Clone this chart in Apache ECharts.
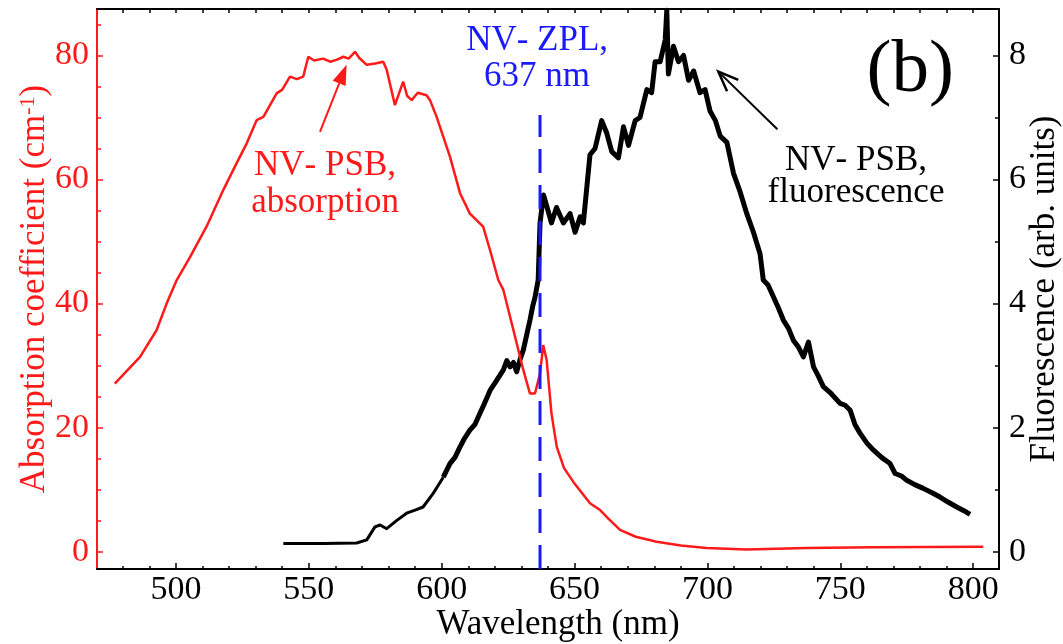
<!DOCTYPE html>
<html>
<head>
<meta charset="utf-8">
<script src="https://cdn.jsdelivr.net/npm/echarts@6.0.0/dist/echarts.min.js"></script>
<style>
  html, body { margin: 0; padding: 0; background: #fff; }
  #chart { width: 1063px; height: 644px; }
</style>
</head>
<body>
<div id="chart"></div>
<script>
var FONT = "'Liberation Serif', 'Times New Roman', serif";
var RED = '#ff1a1a';
var BLUE = '#1a1aff';

// NV- PSB absorption (nm, cm^-1)
var absWavelength = [477.0, 481.0, 486.5, 492.7, 496.5, 500.3, 505.3, 511.5, 517.8, 522.8, 526.6, 530.4, 532.9, 537.9, 540.0,
  542.9, 545.5, 547.9, 549.8, 552.0, 555.4, 558.0, 560.4, 563.0, 565.0, 567.4, 569.0, 571.8, 575.0, 578.0, 579.3,
  582.4, 585.5, 587.0, 588.7, 591.0, 594.3, 595.6, 598.1, 603.1, 606.9, 610.6, 615.6, 618.2, 621.3, 623.2, 627.0,
  630.7, 633.2, 635.1, 637.0, 638.2, 639.5, 641.3, 643.3, 646.0, 649.6, 655.8, 659.6, 663.0, 667.1, 673.0, 680.9,
  690.0, 699.7, 714.7, 737.3, 762.4, 803.8];
var absValue = [27.1, 28.9, 31.4, 35.7, 40.0, 43.8, 47.5, 52.4, 58.3, 62.6, 65.8, 69.6, 70.1, 73.9, 74.5,
  76.6, 76.2, 76.6, 79.8, 79.2, 79.5, 79.0, 79.3, 79.8, 79.5, 80.6, 79.6, 78.5, 78.7, 79.0, 77.7,
  72.0, 75.8, 73.5, 72.8, 74.0, 73.6, 72.8, 70.1, 63.7, 57.8, 54.5, 52.4, 48.6, 43.8, 42.2, 35.7,
  29.3, 25.5, 25.5, 28.7, 33.3, 30.9, 22.3, 16.9, 13.5, 11.2, 7.8, 6.7, 5.2, 3.5, 2.4, 1.6,
  1.0, 0.6, 0.35, 0.6, 0.7, 0.8];

// NV- PSB fluorescence (nm, arb. units): quiet blue side
var fluoLowWavelength = [540.4, 555.4, 568.0, 571.8, 574.9, 576.8, 579.3, 583.0, 586.8, 590.0, 593.0, 596.8, 600.6];
var fluoLowValue = [0.13, 0.13, 0.14, 0.19, 0.40, 0.43, 0.37, 0.50, 0.62, 0.67, 0.72, 0.94, 1.20];
// noisy part
var fluoWavelength = [600.6, 603.1, 605.0, 606.9, 608.5, 610.6, 612.5, 614.4, 616.0, 618.2, 620.5, 622.0, 623.2, 624.5,
  625.7, 627.0, 628.2, 629.5, 630.7, 632.0, 633.2, 634.2, 635.1, 636.3, 637.0, 638.3, 640.0, 641.3, 643.2, 645.8,
  648.3, 650.2, 652.1, 653.3, 655.8, 657.7, 660.2, 662.1, 664.0, 666.5, 668.4, 670.3, 672.8, 674.6, 677.2, 679.0,
  680.3, 682.2, 684.1, 684.7, 685.3, 687.2, 689.1, 691.0, 692.9, 694.8, 697.2, 699.1, 701.0, 703.0, 704.8, 707.3,
  709.8, 712.3, 714.8, 717.3, 719.8, 721.0, 722.8, 724.8, 726.5, 728.6, 730.5, 732.3, 734.2, 736.1, 738.0, 739.9,
  741.5, 743.6, 746.5, 749.9, 751.8, 753.7, 755.5, 757.4, 760.0, 762.4, 765.5, 768.7, 770.6, 773.0, 775.0, 778.0,
  781.2, 784.5, 787.5, 790.5, 793.8, 796.5, 798.8];
var fluoValue = [1.20, 1.42, 1.52, 1.69, 1.82, 1.96, 2.05, 2.23, 2.38, 2.60, 2.75, 2.85, 2.93, 3.08,
  2.98, 3.05, 2.90, 3.10, 3.25, 3.50, 3.73, 3.95, 4.10, 4.38, 5.30, 5.75, 5.50, 5.30, 5.55, 5.30,
  5.45, 5.15, 5.40, 5.30, 6.40, 6.50, 6.95, 6.75, 6.45, 6.35, 6.85, 6.55, 6.95, 7.00, 7.45, 7.40,
  7.90, 7.90, 8.25, 8.73, 7.70, 8.15, 7.90, 8.00, 7.60, 7.75, 7.40, 7.45, 7.10, 6.95, 6.70, 6.60,
  6.10, 5.80, 5.45, 5.15, 4.80, 4.38, 4.30, 4.11, 3.95, 3.73, 3.60, 3.41, 3.30, 3.14, 3.38, 2.98,
  2.85, 2.66, 2.55, 2.39, 2.36, 2.28, 2.05, 1.91, 1.75, 1.64, 1.52, 1.42, 1.26, 1.22, 1.15, 1.08,
  1.02, 0.95, 0.88, 0.80, 0.72, 0.66, 0.60];

// NV- zero phonon line marker
var zplWavelength = 637;
var zplTop = 70.4;

// axis ranges and ticks
var xLimits = [470.3, 809.7];
var absLimits = [-2.8, 87.5];
var fluoLimits = [-0.28, 8.75];
var xMajorTicks = [500, 550, 600, 650, 700, 750, 800];
var xMinorTicks = [480, 490, 510, 520, 530, 540, 560, 570, 580, 590, 610, 620, 630, 640,
  660, 670, 680, 690, 710, 720, 730, 740, 760, 770, 780, 790];
var absMajorTicks = [0, 20, 40, 60, 80];
var absMinorTicks = [5, 10, 15, 25, 30, 35, 45, 50, 55, 65, 70, 75, 85];
var fluoMajorTicks = [0, 2, 4, 6, 8];
var fluoMinorTicks = [1, 3, 5, 7];

function zip(a, b) {
  return a.map(function (v, i) { return [v, b[i]]; });
}

var chart = echarts.init(document.getElementById('chart'));

var nvRich = function (color) {
  return {
    n: { fontFamily: FONT, fontSize: 35, lineHeight: 36, color: color },
    s: { fontFamily: FONT, fontSize: 35, lineHeight: 16, verticalAlign: 'top', color: color }
  };
};

// extra axes that only carry minor ticks
function tickAxis(base, ticks, len, color) {
  return Object.assign({
    type: 'value',
    axisLine: { show: false, onZero: false },
    axisTick: { show: true, inside: true, length: len, customValues: ticks, lineStyle: { color: color, width: 1.5 } },
    axisLabel: { show: false },
    splitLine: { show: false }
  }, base);
}

var option = {
  animation: false,
  backgroundColor: '#fff',
  grid: { left: 97, right: 64, top: 9, bottom: 75, containLabel: false, outerBoundsMode: 'none' },
  xAxis: [{
    type: 'value',
    position: 'bottom',
    min: xLimits[0],
    max: xLimits[1],
    axisLine: { onZero: false, lineStyle: { color: '#000', width: 2 } },
    axisTick: { inside: true, length: 6, customValues: xMajorTicks, lineStyle: { color: '#000', width: 1.5 } },
    axisLabel: { customValues: xMajorTicks, fontFamily: FONT, fontSize: 34, color: '#000', margin: 4 },
    splitLine: { show: false },
    name: 'Wavelength (nm)',
    nameLocation: 'middle',
    nameGap: 38,
    nameMoveOverlap: false,
    nameTextStyle: { fontFamily: FONT, fontSize: 35, color: '#000', padding: [0, 0, 0, 20] }
  },
  tickAxis({ position: 'bottom', min: xLimits[0], max: xLimits[1] }, xMinorTicks, 3, '#000'),
  {
    type: 'value',
    position: 'top',
    min: xLimits[0],
    max: xLimits[1],
    axisLine: { onZero: false, lineStyle: { color: '#000', width: 2 } },
    axisTick: { inside: true, length: 4, customValues: xMajorTicks.concat(xMinorTicks), lineStyle: { color: '#000', width: 1.5 } },
    axisLabel: { show: false },
    splitLine: { show: false }
  }],
  yAxis: [{
    type: 'value',
    position: 'left',
    min: absLimits[0],
    max: absLimits[1],
    axisLine: { show: true, onZero: false, lineStyle: { color: RED, width: 2 } },
    axisTick: { show: true, inside: true, length: 6, customValues: absMajorTicks, lineStyle: { color: RED, width: 1.5 } },
    axisLabel: { customValues: absMajorTicks, fontFamily: FONT, fontSize: 34, color: RED, margin: 8 },
    splitLine: { show: false },
    name: '{a|Absorption coefficient (cm}{s|-1}{a|)}',
    nameLocation: 'middle',
    nameRotate: 90,
    nameGap: 44,
    nameMoveOverlap: false,
    nameTextStyle: {
      rich: {
        a: { fontFamily: FONT, fontSize: 35, color: RED, lineHeight: 36 },
        s: { fontFamily: FONT, fontSize: 22, color: RED, lineHeight: 20, verticalAlign: 'top' }
      }
    }
  }, {
    type: 'value',
    position: 'right',
    min: fluoLimits[0],
    max: fluoLimits[1],
    axisLine: { show: true, onZero: false, lineStyle: { color: '#000', width: 2 } },
    axisTick: { show: true, inside: true, length: 6, customValues: fluoMajorTicks, lineStyle: { color: '#000', width: 1.5 } },
    axisLabel: { customValues: fluoMajorTicks, fontFamily: FONT, fontSize: 34, color: '#000', margin: 10 },
    splitLine: { show: false },
    name: 'Fluorescence (arb. units)',
    nameLocation: 'middle',
    nameRotate: 90,
    nameGap: 28,
    nameMoveOverlap: false,
    nameTextStyle: { fontFamily: FONT, fontSize: 35, color: '#000' }
  },
  tickAxis({ position: 'left', min: absLimits[0], max: absLimits[1] }, absMinorTicks, 4, RED),
  tickAxis({ position: 'right', min: fluoLimits[0], max: fluoLimits[1] }, fluoMinorTicks, 4, '#000')],
  series: [{
    name: 'fluorescence low',
    type: 'line',
    xAxisIndex: 0,
    yAxisIndex: 1,
    data: zip(fluoLowWavelength, fluoLowValue),
    showSymbol: false,
    lineStyle: { color: '#000', width: 3, join: 'round' },
    z: 2
  }, {
    name: 'fluorescence',
    type: 'line',
    xAxisIndex: 0,
    yAxisIndex: 1,
    data: zip(fluoWavelength, fluoValue),
    showSymbol: false,
    lineStyle: { color: '#000', width: 5, join: 'round' },
    z: 2
  }, {
    name: 'absorption',
    type: 'line',
    xAxisIndex: 0,
    yAxisIndex: 0,
    data: zip(absWavelength, absValue),
    showSymbol: false,
    lineStyle: { color: RED, width: 2.5 },
    z: 3
  }, {
    name: 'ZPL',
    type: 'line',
    xAxisIndex: 0,
    yAxisIndex: 0,
    data: [[zplWavelength, absLimits[0]], [zplWavelength, zplTop]],
    showSymbol: false,
    lineStyle: { color: BLUE, width: 3, type: [24, 12] },
    z: 4
  }]
};

chart.setOption(option);

// annotations, placed in data coordinates (nm, absorption units)
var labels = [
  { pos: [635.9, 82.3], text: '{n|NV}{s|-}{n| ZPL,}', color: BLUE },
  { pos: [635.9, 76.6], text: '{n|637 nm}', color: BLUE },
  { pos: [556.1, 62.2], text: '{n|NV}{s|-}{n| PSB,}', color: RED },
  { pos: [556.1, 56.2], text: '{n|absorption}', color: RED },
  { pos: [755.9, 63.1], text: '{n|NV}{s|-}{n| PSB,}', color: '#000' },
  { pos: [755.9, 57.8], text: '{n|fluorescence}', color: '#000' }
];
var arrows = [
  { tail: [554.2, 67.7], head: [564.2, 78.5], color: RED, filled: true },
  { tail: [726.3, 68.1], head: [704.1, 77.4], color: '#000', filled: false }
];
var panelLabel = { pos: [776.3, 77.5], text: '(b)' };

function px(p) {
  return chart.convertToPixel({ xAxisIndex: 0, yAxisIndex: 0 }, p);
}

var graphics = [];
labels.forEach(function (l) {
  var p = px(l.pos);
  graphics.push({
    type: 'text', x: p[0], y: p[1], z: 10,
    style: { text: l.text, rich: nvRich(l.color), fill: l.color, align: 'center', verticalAlign: 'middle' }
  });
});
arrows.forEach(function (a) {
  var p0 = px(a.tail), p1 = px(a.head);
  var ang = Math.atan2(p1[1] - p0[1], p1[0] - p0[0]);
  var L = 20, W = a.filled ? 7 : 8;
  var bx = p1[0] - L * Math.cos(ang), by = p1[1] - L * Math.sin(ang);
  var left = [bx + W * Math.sin(ang), by - W * Math.cos(ang)];
  var right = [bx - W * Math.sin(ang), by + W * Math.cos(ang)];
  if (a.filled) {
    graphics.push({ type: 'line', z: 10, shape: { x1: p0[0], y1: p0[1], x2: bx, y2: by }, style: { stroke: a.color, lineWidth: 2 } });
    graphics.push({ type: 'polygon', z: 10, shape: { points: [p1, left, right] }, style: { fill: a.color } });
  } else {
    graphics.push({ type: 'line', z: 10, shape: { x1: p0[0], y1: p0[1], x2: p1[0], y2: p1[1] }, style: { stroke: a.color, lineWidth: 2 } });
    graphics.push({ type: 'polyline', z: 10, shape: { points: [left, p1, right] }, style: { stroke: a.color, lineWidth: 2.5, fill: null } });
  }
});
var pb = px(panelLabel.pos);
graphics.push({
  type: 'text', x: pb[0], y: pb[1], z: 10,
  style: { text: panelLabel.text, font: '75px ' + FONT, fill: '#000', align: 'center', verticalAlign: 'middle' }
});

chart.setOption({ graphic: graphics });
</script>
</body>
</html>
